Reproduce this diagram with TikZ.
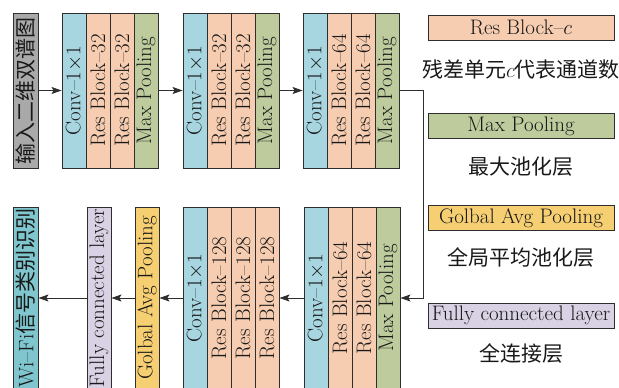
\documentclass[tikz,border=0pt]{standalone}
\usepackage{fontspec}
\newfontfamily\cjk{Noto Sans CJK SC}
\usetikzlibrary{arrows.meta}
\definecolor{convc}{HTML}{A7D5E0}
\definecolor{resc}{HTML}{F7CDB1}
\definecolor{poolc}{HTML}{BDCB9D}
\definecolor{inc}{HTML}{A9A9A9}
\definecolor{outc}{HTML}{80C6CE}
\definecolor{gavgc}{HTML}{F6CF72}
\definecolor{fcc}{HTML}{D8D2E4}
\definecolor{linec}{HTML}{2E2E2E}
\begin{document}
\begin{tikzpicture}[x=1pt,y=-1pt,
  font=\fontsize{21}{23}\selectfont,
  col/.style={draw=linec, line width=0.9pt, inner sep=0pt, minimum width=24pt, text=black!90},
  toprow/.style={col, minimum height=155pt},
  botrow/.style={col, minimum height=182pt},
  leg/.style={draw=linec, line width=0.9pt, inner sep=0pt, minimum width=186pt, minimum height=25pt, text=black!90},
  legtxt/.style={text=black!90, inner sep=0pt},
  arr/.style={draw=linec, line width=0.9pt, -{Stealth[length=10pt,width=7pt,inset=2pt]}},
  plain/.style={draw=linec, line width=0.9pt}
]
\useasboundingbox (0,0) rectangle (619,388);
\clip (0,0) rectangle (619,388);
% top row
\node[toprow, fill=inc, minimum width=25pt] (in) at (25.5,90.5) {\rotatebox{90}{\cjk 输入二维双谱图}};
\node[toprow, fill=convc] (c1) at (74,90.5) {\rotatebox{90}{Conv\textendash1$\times$1}};
\node[toprow, fill=resc] (r1a) at (98,90.5) {\rotatebox{90}{Res Block\textendash32}};
\node[toprow, fill=resc] (r1b) at (122,90.5) {\rotatebox{90}{Res Block\textendash32}};
\node[toprow, fill=poolc] (m1) at (146,90.5) {\rotatebox{90}{Max Pooling}};
\node[toprow, fill=convc] (c2) at (195,90.5) {\rotatebox{90}{Conv\textendash1$\times$1}};
\node[toprow, fill=resc] (r2a) at (219,90.5) {\rotatebox{90}{Res Block\textendash32}};
\node[toprow, fill=resc] (r2b) at (243,90.5) {\rotatebox{90}{Res Block\textendash32}};
\node[toprow, fill=poolc] (m2) at (267,90.5) {\rotatebox{90}{Max Pooling}};
\node[toprow, fill=convc] (c3) at (315,90.5) {\rotatebox{90}{Conv\textendash1$\times$1}};
\node[toprow, fill=resc] (r3a) at (339,90.5) {\rotatebox{90}{Res Block\textendash64}};
\node[toprow, fill=resc] (r3b) at (363,90.5) {\rotatebox{90}{Res Block\textendash64}};
\node[toprow, fill=poolc] (m3) at (387,90.5) {\rotatebox{90}{Max Pooling}};
% bottom row
\node[botrow, fill=outc, minimum width=25pt] (out) at (25.5,298) {\rotatebox{90}{Wi\textendash Fi\cjk 信号类别识别}};
\node[botrow, fill=fcc] (fc) at (99,298) {\rotatebox{90}{Fully connected layer}};
\node[botrow, fill=gavgc] (ga) at (147,298) {\rotatebox{90}{Golbal Avg Pooling}};
\node[botrow, fill=convc] (c5) at (195,298) {\rotatebox{90}{Conv\textendash1$\times$1}};
\node[botrow, fill=resc] (r5a) at (219,298) {\rotatebox{90}{Res Block\textendash128}};
\node[botrow, fill=resc] (r5b) at (243,298) {\rotatebox{90}{Res Block\textendash128}};
\node[botrow, fill=resc] (r5c) at (267,298) {\rotatebox{90}{Res Block\textendash128}};
\node[botrow, fill=convc] (c4) at (316,298) {\rotatebox{90}{Conv\textendash1$\times$1}};
\node[botrow, fill=resc] (r4a) at (340,298) {\rotatebox{90}{Res Block\textendash64}};
\node[botrow, fill=resc] (r4b) at (364,298) {\rotatebox{90}{Res Block\textendash64}};
\node[botrow, fill=poolc] (m4) at (388,298) {\rotatebox{90}{Max Pooling}};
% connectors
\draw[arr] (in.east) -- (c1.west);
\draw[arr] (m1.east) -- (c2.west);
\draw[arr] (m2.east) -- (c3.west);
\coordinate (turn) at (423,90.5);
\draw[arr] (m3.east) -- (turn) |- (m4.east);
\draw[arr] (c4.west) -- (r5c.east);
\draw[arr] (c5.west) -- (ga.east);
\draw[arr] (ga.west) -- (fc.east);
\draw[arr] (fc.west) -- (out.east);
% legend
\node[leg, fill=resc] (lres) at (521,27.5) {Res Block\textendash$c$};
\node[legtxt] (tres) at (521,70) {\cjk 残差单元\rmfamily$c$\cjk 代表通道数};
\node[leg, fill=poolc] (lmax) at (521,126) {Max Pooling};
\node[legtxt] (tmax) at (521,167) {\cjk 最大池化层};
\node[leg, fill=gavgc] (lga) at (521,218) {Golbal Avg Pooling};
\node[legtxt] (tga) at (521,257) {\cjk 全局平均池化层};
\node[leg, fill=fcc] (lfc) at (521,315.5) {Fully connected layer};
\node[legtxt] (tfc) at (521,353) {\cjk 全连接层};
\end{tikzpicture}
\end{document}
